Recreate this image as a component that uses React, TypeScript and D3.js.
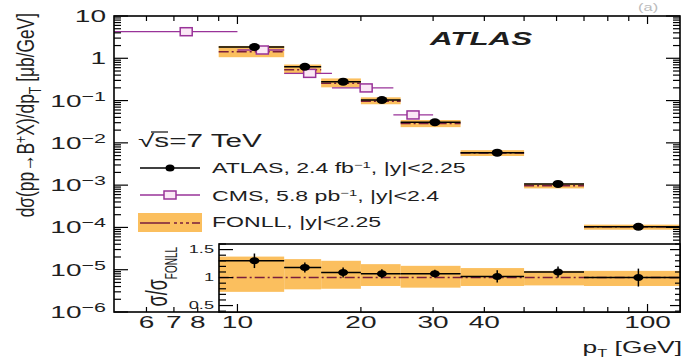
import React from 'react';
import * as d3 from 'd3';

// ATLAS B+ cross section bins (pT in GeV, dsigma/dpT in ub/GeV)
const atlasLo = [9, 13, 16, 20, 25, 35, 50, 70];
const atlasHi = [13, 16, 20, 25, 35, 50, 70, 120];
const atlasPt = [11.0, 14.6, 18.1, 22.5, 30.3, 43, 60.5, 95];
const atlasXsec = [1.85, 0.632, 0.28, 0.103, 0.0307, 0.00586, 0.00107, 0.000104];
const atlasRatio = [1.3, 1.18, 1.09, 1.07, 1.07, 1.02, 1.1, 1.0];
const atlasRatioErr = [0.13, 0.09, 0.09, 0.08, 0.07, 0.11, 0.1, 0.16];

// FONLL relative uncertainty band
const fonllUp = [1.375, 1.33, 1.3, 1.24, 1.21, 1.17, 1.12, 1.12];
const fonllDown = [0.745, 0.79, 0.8, 0.85, 0.82, 0.85, 0.86, 0.85];

// CMS points
const cmsLo = [5, 10, 13, 17, 24];
const cmsHi = [10, 13, 17, 24, 30];
const cmsPt = [7.5, 11.5, 15, 20.6, 26.8];
const cmsXsec = [4.25, 1.57, 0.44, 0.199, 0.0457];

const xLabels = [6, 7, 8, 10, 20, 30, 40, 100];
const yExps = [1, 0, -1, -2, -3, -4, -5, -6];
const ratioLabels = ['0.5', '1', '1.5'];

const SX = 1.65;
const FONT = "'Liberation Sans', Arial, Helvetica, sans-serif";
const ORANGE = '#fbbf5e';
const FONLL_C = '#7a1e3c';
const CMS_C = '#993399';
const DASH = '10 3 2 3';

const L = 114, R = 680, T = 16, B = 312, RT = 244, RL = 219;

const Txt = ({ x, y, size, anchor = 'start', rot = false, k = 1, weight, italic, fill = '#1e1e1e', children }: any) => {
  let tf = `translate(${x},${y}) scale(${SX},1)`;
  if (rot) tf += ' rotate(-90)';
  if (k !== 1) tf += ` scale(${k},1)`;
  return (
    <text transform={tf} fontSize={size} textAnchor={anchor} fontFamily={FONT}
      fontWeight={weight} fontStyle={italic ? 'italic' : undefined} fill={fill}>
      {children}
    </text>
  );
};

const App = () => {
  const x = d3.scaleLog().domain([5, 120]).range([L, R]);
  const y = d3.scaleLog().domain([1e-6, 10]).range([B, T]);
  const yr = d3.scaleLinear().domain([0.385, 1.6]).range([B, RT]);

  const isMajor = (v: number) => Math.abs(Math.log10(v) - Math.round(Math.log10(v))) < 1e-6;
  const xt = x.ticks().filter(v => v > 5);
  const yt = y.ticks();
  const rt = d3.range(4, 17).map(v => v / 10);

  const fonll = atlasXsec.map((v, i) => v / atlasRatio[i]);

  return (
    <svg width={686} height={361} style={{ position: 'absolute', left: 0, top: 0, background: '#fff' }}>
      <rect width={686} height={361} fill="#fff" />

      {/* FONLL boxes */}
      {fonll.map((f, i) => (
        <rect key={'fb' + i} x={x(atlasLo[i])} width={x(atlasHi[i]) - x(atlasLo[i])}
          y={y(f * fonllUp[i])} height={y(f * fonllDown[i]) - y(f * fonllUp[i])} fill={ORANGE} />
      ))}
      {fonll.map((f, i) => (
        <line key={'fl' + i} x1={x(atlasLo[i])} x2={x(atlasHi[i])} y1={y(f)} y2={y(f)}
          stroke={FONLL_C} strokeWidth={1.5} strokeDasharray={DASH} />
      ))}
      {/* ATLAS horizontal bars */}
      {atlasXsec.map((v, i) => (
        <line key={'al' + i} x1={x(atlasLo[i])} x2={x(atlasHi[i])} y1={y(v)} y2={y(v)}
          stroke="#000" strokeWidth={1.5} />
      ))}
      {/* CMS */}
      {cmsXsec.map((v, i) => (
        <g key={'c' + i}>
          <line x1={x(cmsLo[i])} x2={x(cmsHi[i])} y1={y(v)} y2={y(v)} stroke={CMS_C} strokeWidth={1.3} />
          <rect x={x(cmsPt[i]) - 6} y={y(v) - 4} width={12} height={8} fill="#fbe8f6" stroke={CMS_C} strokeWidth={1.5} />
        </g>
      ))}
      {/* ATLAS dots */}
      {atlasXsec.map((v, i) => (
        <ellipse key={'ad' + i} cx={x(atlasPt[i])} cy={y(v)} rx={5.5} ry={4} fill="#000" />
      ))}

      {/* main frame */}
      <rect x={L} y={T} width={R - L} height={B - T} fill="none" stroke="#000" strokeWidth={1.6} />

      {/* left y ticks */}
      {yt.map((v, i) => (
        <line key={'yl' + i} x1={L} x2={L + (isMajor(v) ? 14 : 7)} y1={y(v)} y2={y(v)} stroke="#000" strokeWidth={1.2} />
      ))}
      {/* right y ticks (above inset) */}
      {yt.filter(v => y(v) < RT - 2).map((v, i) => (
        <line key={'yr' + i} x1={R} x2={R - (isMajor(v) ? 14 : 7)} y1={y(v)} y2={y(v)} stroke="#000" strokeWidth={1.2} />
      ))}
      {/* top x ticks */}
      {xt.map((v, i) => (
        <line key={'xt' + i} x1={x(v)} x2={x(v)} y1={T} y2={T + (isMajor(v) ? 8 : 5)} stroke="#000" strokeWidth={1.2} />
      ))}
      {/* bottom ticks left of inset */}
      {xt.filter(v => v < 9).map((v, i) => (
        <line key={'xb' + i} x1={x(v)} x2={x(v)} y1={B} y2={B - 5} stroke="#000" strokeWidth={1.2} />
      ))}

      {/* ratio inset */}
      <rect x={RL} y={RT} width={R - RL} height={B - RT} fill="#fff" />
      {atlasLo.map((lo, i) => (
        <rect key={'rb' + i} x={x(lo)} width={x(atlasHi[i]) - x(lo)} y={yr(fonllUp[i])}
          height={yr(fonllDown[i]) - yr(fonllUp[i])} fill={ORANGE} />
      ))}
      <line x1={x(9)} x2={R} y1={yr(1)} y2={yr(1)} stroke={FONLL_C} strokeWidth={1.5} strokeDasharray={DASH} />
      {atlasRatio.map((r, i) => (
        <g key={'rp' + i}>
          <line x1={x(atlasLo[i])} x2={x(atlasHi[i])} y1={yr(r)} y2={yr(r)} stroke="#000" strokeWidth={1.5} />
          <line x1={x(atlasPt[i])} x2={x(atlasPt[i])} y1={yr(r + atlasRatioErr[i])} y2={yr(r - atlasRatioErr[i])} stroke="#000" strokeWidth={1.5} />
          <ellipse cx={x(atlasPt[i])} cy={yr(r)} rx={5} ry={3.5} fill="#000" />
        </g>
      ))}
      <rect x={RL} y={RT} width={R - RL} height={B - RT} fill="none" stroke="#000" strokeWidth={1.6} />
      {rt.map((v, i) => {
        const maj = Math.abs(v * 2 - Math.round(v * 2)) < 1e-6;
        return (
          <g key={'rt' + i}>
            <line x1={RL} x2={RL + (maj ? 14 : 7)} y1={yr(v)} y2={yr(v)} stroke="#000" strokeWidth={1.2} />
            <line x1={R} x2={R - (maj ? 10 : 5)} y1={yr(v)} y2={yr(v)} stroke="#000" strokeWidth={1.2} />
          </g>
        );
      })}
      {xt.filter(v => v >= 10).map((v, i) => (
        <line key={'rx' + i} x1={x(v)} x2={x(v)} y1={B} y2={B - (isMajor(v) ? 8 : 5)} stroke="#000" strokeWidth={1.2} />
      ))}

      {/* tick labels */}
      {yExps.map(e => (
        <Txt key={'ye' + e} x={106} y={y(Math.pow(10, e)) + 6} size={17} anchor="end">
          {e === 0 ? '1' : '10'}
          {e < 0 || e > 1 ? <tspan fontSize={13} dy={-6}>{String(e).replace('-', '\u2212')}</tspan> : null}
        </Txt>
      ))}
      {xLabels.map(v => (
        <Txt key={'xl' + v} x={x(v)} y={328} size={17} anchor="middle">{v}</Txt>
      ))}
      {ratioLabels.map(s => (
        <Txt key={'rl' + s} x={214} y={yr(+s) + 3.5} size={11} anchor="end">{s}</Txt>
      ))}

      {/* axis titles */}
      <Txt x={34} y={13} size={14} anchor="end" rot k={1.24}>
        dσ(pp→B<tspan fontSize={10} dy={-5}>+</tspan><tspan dy={5}>X)/dp</tspan>
        <tspan fontSize={10} dy={4}>T</tspan><tspan dy={-4}> [μb/GeV]</tspan>
      </Txt>
      <Txt x={167} y={247} size={18} anchor="end" rot>
        σ/σ<tspan fontSize={10} dy={6}>FONLL</tspan>
      </Txt>
      <Txt x={682} y={353} size={16} anchor="end">
        p<tspan fontSize={10} dy={4}>T</tspan><tspan dy={-4}> [GeV]</tspan>
      </Txt>

      {/* labels */}
      <Txt x={430} y={45} size={19} weight="bold" italic>ATLAS</Txt>
      <Txt x={138} y={147} size={18}>√s=7 TeV</Txt>
      <line x1={151} x2={168} y1={132} y2={132} stroke="#1e1e1e" strokeWidth={1.3} />
      <Txt x={638} y={11} size={10} fill="#bbb">(a)</Txt>

      {/* legend */}
      <line x1={140} x2={200} y1={168} y2={168} stroke="#000" strokeWidth={1.5} />
      <ellipse cx={170} cy={168} rx={4.5} ry={3.5} fill="#000" />
      <Txt x={212} y={173} size={14}>
        ATLAS, 2.4 fb<tspan fontSize={9} dy={-5}>−1</tspan><tspan dy={5}>, |y|&lt;2.25</tspan>
      </Txt>
      <line x1={140} x2={200} y1={195} y2={195} stroke={CMS_C} strokeWidth={1.3} />
      <rect x={164} y={191} width={12} height={8} fill="#fbe8f6" stroke={CMS_C} strokeWidth={1.5} />
      <Txt x={212} y={201} size={14}>
        CMS, 5.8 pb<tspan fontSize={9} dy={-5}>−1</tspan><tspan dy={5}>, |y|&lt;2.4</tspan>
      </Txt>
      <rect x={138} y={213} width={64} height={19} fill={ORANGE} />
      <line x1={140} x2={200} y1={223} y2={223} stroke={FONLL_C} strokeWidth={1.5} strokeDasharray="30 4 3 3 3 3 3 3" />
      <Txt x={212} y={227} size={14}>FONLL, |y|&lt;2.25</Txt>
    </svg>
  );
};

export default App;
